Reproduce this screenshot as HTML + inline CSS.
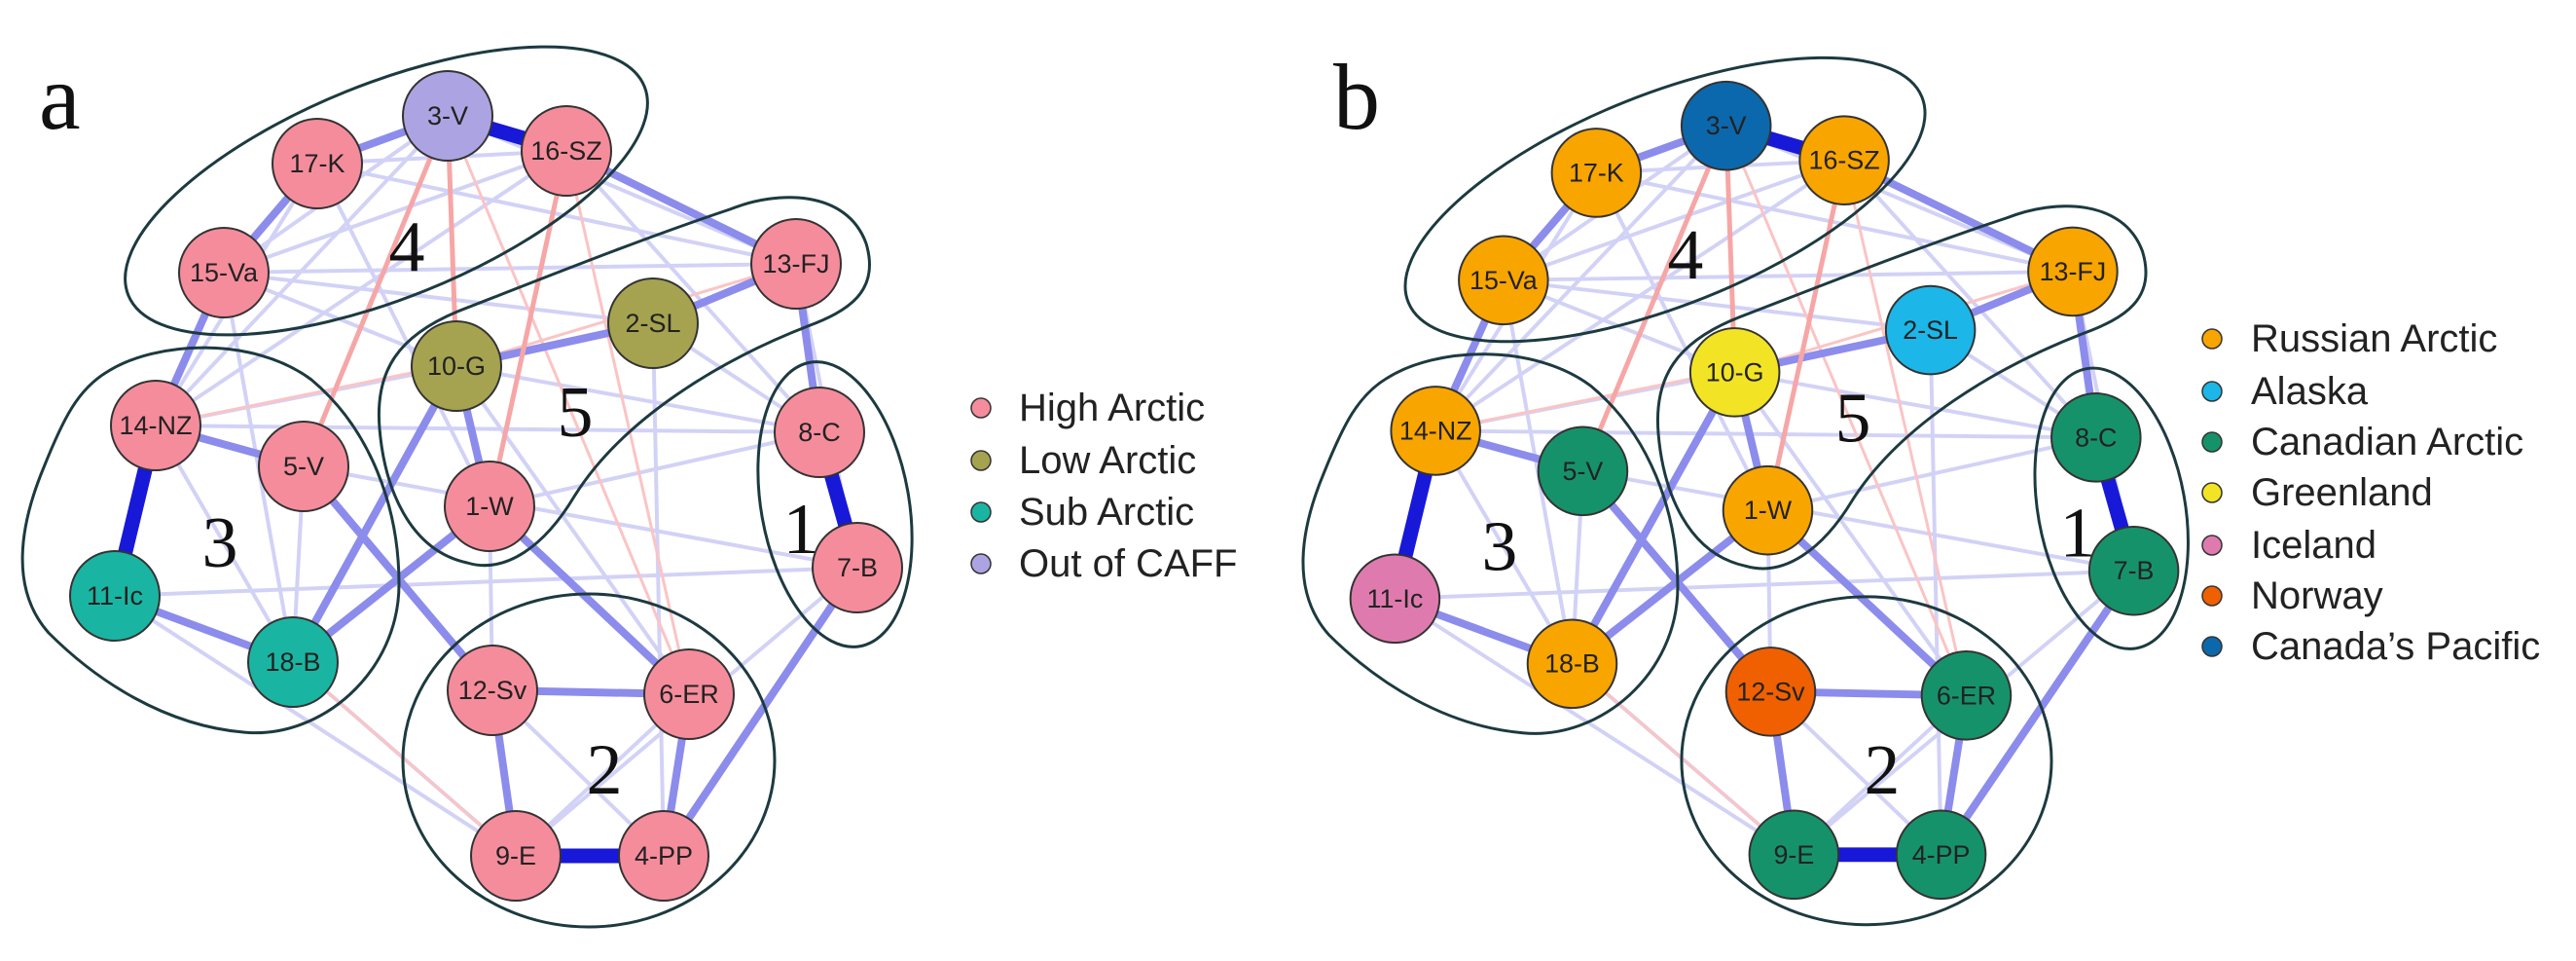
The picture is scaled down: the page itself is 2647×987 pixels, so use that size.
<!DOCTYPE html>
<html><head><meta charset="utf-8"><style>
html,body{margin:0;padding:0;background:#fff;}
svg{display:block;}
.nl{font-family:"Liberation Sans",sans-serif;font-size:27px;fill:#222;text-anchor:middle;dominant-baseline:central;}
.num{font-family:"Liberation Serif",serif;font-size:74px;fill:#111;text-anchor:middle;}
.lg{font-family:"Liberation Sans",sans-serif;font-size:40px;fill:#222;dominant-baseline:central;}
.pl{font-family:"Liberation Serif",serif;font-size:96px;fill:#111;}
</style></head><body>
<svg width="2647" height="987" viewBox="0 0 2647 987" xmlns="http://www.w3.org/2000/svg">
<defs>
<g id="net">
 <g stroke="#c8c8f6" stroke-width="4" opacity="0.8">
  <line x1="326" y1="168" x2="160" y2="437"/><line x1="460" y1="119" x2="160" y2="437"/>
  <line x1="582" y1="155" x2="160" y2="437"/><line x1="230" y1="280" x2="469" y2="376"/>
  <line x1="230" y1="280" x2="818" y2="271"/><line x1="326" y1="168" x2="818" y2="271"/>
  <line x1="460" y1="119" x2="818" y2="271"/><line x1="582" y1="155" x2="842" y2="444"/>
  <line x1="671" y1="332" x2="842" y2="444"/><line x1="818" y1="271" x2="881" y2="583"/>
  <line x1="469" y1="376" x2="160" y2="437"/><line x1="671" y1="332" x2="682" y2="879"/>
  <line x1="469" y1="376" x2="708" y2="713"/><line x1="312" y1="479" x2="301" y2="680"/>
  <line x1="160" y1="437" x2="301" y2="680"/><line x1="118" y1="612" x2="530" y2="879"/>
  <line x1="301" y1="680" x2="530" y2="879"/><line x1="506" y1="709" x2="682" y2="879"/>
  <line x1="530" y1="879" x2="708" y2="713"/><line x1="118" y1="612" x2="881" y2="583"/>
  <line x1="503" y1="520" x2="842" y2="444"/><line x1="503" y1="520" x2="506" y2="709"/>
  <line x1="842" y1="444" x2="469" y2="376"/><line x1="326" y1="168" x2="503" y2="520"/>
  <line x1="230" y1="280" x2="301" y2="680"/><line x1="460" y1="119" x2="230" y2="280"/>
  <line x1="326" y1="168" x2="582" y2="155"/><line x1="582" y1="155" x2="230" y2="280"/>
  <line x1="881" y1="583" x2="530" y2="879"/><line x1="230" y1="280" x2="671" y2="332"/>
  <line x1="160" y1="437" x2="842" y2="444"/><line x1="312" y1="479" x2="881" y2="583"/>
 </g>
 <g stroke="#fbc4c4" stroke-width="3">
  <line x1="582" y1="155" x2="708" y2="713"/><line x1="460" y1="119" x2="708" y2="713"/>
  <line x1="671" y1="332" x2="160" y2="437"/><line x1="818" y1="271" x2="469" y2="376"/>
  <line x1="301" y1="680" x2="530" y2="879"/>
 </g>
 <g stroke="#8c8cec" stroke-width="8">
  <line x1="326" y1="168" x2="460" y2="119"/><line x1="326" y1="168" x2="230" y2="280"/>
  <line x1="469" y1="376" x2="671" y2="332"/><line x1="671" y1="332" x2="818" y2="271"/>
  <line x1="469" y1="376" x2="503" y2="520"/><line x1="160" y1="437" x2="312" y2="479"/>
  <line x1="118" y1="612" x2="301" y2="680"/><line x1="301" y1="680" x2="503" y2="520"/>
  <line x1="301" y1="680" x2="469" y2="376"/><line x1="506" y1="709" x2="708" y2="713"/>
  <line x1="506" y1="709" x2="530" y2="879"/><line x1="708" y1="713" x2="682" y2="879"/>
  <line x1="582" y1="155" x2="818" y2="271"/><line x1="818" y1="271" x2="842" y2="444"/>
  <line x1="230" y1="280" x2="160" y2="437"/><line x1="881" y1="583" x2="682" y2="879"/>
  <line x1="312" y1="479" x2="506" y2="709"/><line x1="503" y1="520" x2="708" y2="713"/>
 </g>
 <g stroke="#f6a6a6" stroke-width="5">
  <line x1="460" y1="119" x2="469" y2="376"/><line x1="582" y1="155" x2="503" y2="520"/>
  <line x1="460" y1="119" x2="312" y2="479"/>
 </g>
 <g stroke="#1818d8" stroke-width="15">
  <line x1="460" y1="119" x2="582" y2="155"/><line x1="160" y1="437" x2="118" y2="612"/>
  <line x1="842" y1="444" x2="881" y2="583"/><line x1="530" y1="879" x2="682" y2="879"/>
 </g>
 <g fill="none" stroke="#1c3a40" stroke-width="3">
  <ellipse cx="397" cy="196" rx="286" ry="110" transform="rotate(-22 397 196)"/>
  <path d="M750,215 C800,195 870,195 890,250 C905,300 870,320 830,335 C740,370 640,430 590,510 C560,560 520,590 480,578 C420,565 395,500 390,440 C385,380 410,345 470,320 C560,285 660,245 750,215 Z"/>
  <path d="M110,382 C160,350 260,345 320,390 C380,440 410,520 410,600 C410,690 330,760 250,752 C170,745 100,700 50,650 C10,605 20,540 45,480 C65,430 80,400 110,382 Z"/>
  <ellipse cx="858" cy="518" rx="76" ry="148" transform="rotate(-10 858 518)"/>
  <ellipse cx="605" cy="781" rx="191" ry="171"/>
 </g>
 <text class="num" x="418" y="278">4</text>
 <text class="num" x="591" y="448">5</text>
 <text class="num" x="226" y="582">3</text>
 <text class="num" x="823" y="568">1</text>
 <text class="num" x="621" y="815">2</text>
</g>
</defs>

<!-- Panel a -->
<use href="#net"/>
<text class="pl" x="40" y="132">a</text>
<g stroke="#333" stroke-width="2">
 <circle cx="460" cy="119" r="46" fill="#aca4e2"/>
 <circle cx="582" cy="155" r="46" fill="#f58c9c"/>
 <circle cx="326" cy="168" r="46" fill="#f58c9c"/>
 <circle cx="230" cy="280" r="46" fill="#f58c9c"/>
 <circle cx="818" cy="271" r="46" fill="#f58c9c"/>
 <circle cx="671" cy="332" r="46" fill="#a5a350"/>
 <circle cx="469" cy="376" r="46" fill="#a5a350"/>
 <circle cx="160" cy="437" r="46" fill="#f58c9c"/>
 <circle cx="312" cy="479" r="46" fill="#f58c9c"/>
 <circle cx="503" cy="520" r="46" fill="#f58c9c"/>
 <circle cx="842" cy="444" r="46" fill="#f58c9c"/>
 <circle cx="881" cy="583" r="46" fill="#f58c9c"/>
 <circle cx="118" cy="612" r="46" fill="#1ab5a2"/>
 <circle cx="301" cy="680" r="46" fill="#1ab5a2"/>
 <circle cx="506" cy="709" r="46" fill="#f58c9c"/>
 <circle cx="708" cy="713" r="46" fill="#f58c9c"/>
 <circle cx="530" cy="879" r="46" fill="#f58c9c"/>
 <circle cx="682" cy="879" r="46" fill="#f58c9c"/>
</g>
<g class="nl">
 <text class="nl" x="460" y="119">3-V</text><text class="nl" x="582" y="155">16-SZ</text>
 <text class="nl" x="326" y="168">17-K</text><text class="nl" x="230" y="280">15-Va</text>
 <text class="nl" x="818" y="271">13-FJ</text><text class="nl" x="671" y="332">2-SL</text>
 <text class="nl" x="469" y="376">10-G</text><text class="nl" x="160" y="437">14-NZ</text>
 <text class="nl" x="312" y="479">5-V</text><text class="nl" x="503" y="520">1-W</text>
 <text class="nl" x="842" y="444">8-C</text><text class="nl" x="881" y="583">7-B</text>
 <text class="nl" x="118" y="612">11-Ic</text><text class="nl" x="301" y="680">18-B</text>
 <text class="nl" x="506" y="709">12-Sv</text><text class="nl" x="708" y="713">6-ER</text>
 <text class="nl" x="530" y="879">9-E</text><text class="nl" x="682" y="879">4-PP</text>
</g>
<g stroke="#333" stroke-width="1.5">
 <circle cx="1008" cy="419" r="10" fill="#f58c9c"/>
 <circle cx="1008" cy="473" r="10" fill="#a5a350"/>
 <circle cx="1008" cy="526" r="10" fill="#1ab5a2"/>
 <circle cx="1008" cy="579" r="10" fill="#aca4e2"/>
</g>
<text class="lg" x="1047" y="419">High Arctic</text>
<text class="lg" x="1047" y="473">Low Arctic</text>
<text class="lg" x="1047" y="526">Sub Arctic</text>
<text class="lg" x="1047" y="579">Out of CAFF</text>

<!-- Panel b -->
<text class="pl" x="1370" y="132">b</text>
<g transform="translate(1316 12) scale(0.995 0.985)">
<use href="#net"/>
<g stroke="#333" stroke-width="2">
 <circle cx="460" cy="119" r="46" fill="#0c68ac"/>
 <circle cx="582" cy="155" r="46" fill="#f9a500"/>
 <circle cx="326" cy="168" r="46" fill="#f9a500"/>
 <circle cx="230" cy="280" r="46" fill="#f9a500"/>
 <circle cx="818" cy="271" r="46" fill="#f9a500"/>
 <circle cx="671" cy="332" r="46" fill="#1cb6e8"/>
 <circle cx="469" cy="376" r="46" fill="#f2e424"/>
 <circle cx="160" cy="437" r="46" fill="#f9a500"/>
 <circle cx="312" cy="479" r="46" fill="#16926a"/>
 <circle cx="503" cy="520" r="46" fill="#f9a500"/>
 <circle cx="842" cy="444" r="46" fill="#16926a"/>
 <circle cx="881" cy="583" r="46" fill="#16926a"/>
 <circle cx="118" cy="612" r="46" fill="#df7aae"/>
 <circle cx="301" cy="680" r="46" fill="#f9a500"/>
 <circle cx="506" cy="709" r="46" fill="#f06000"/>
 <circle cx="708" cy="713" r="46" fill="#16926a"/>
 <circle cx="530" cy="879" r="46" fill="#16926a"/>
 <circle cx="682" cy="879" r="46" fill="#16926a"/>
</g>
 <text class="nl" x="460" y="119">3-V</text><text class="nl" x="582" y="155">16-SZ</text>
 <text class="nl" x="326" y="168">17-K</text><text class="nl" x="230" y="280">15-Va</text>
 <text class="nl" x="818" y="271">13-FJ</text><text class="nl" x="671" y="332">2-SL</text>
 <text class="nl" x="469" y="376">10-G</text><text class="nl" x="160" y="437">14-NZ</text>
 <text class="nl" x="312" y="479">5-V</text><text class="nl" x="503" y="520">1-W</text>
 <text class="nl" x="842" y="444">8-C</text><text class="nl" x="881" y="583">7-B</text>
 <text class="nl" x="118" y="612">11-Ic</text><text class="nl" x="301" y="680">18-B</text>
 <text class="nl" x="506" y="709">12-Sv</text><text class="nl" x="708" y="713">6-ER</text>
 <text class="nl" x="530" y="879">9-E</text><text class="nl" x="682" y="879">4-PP</text>
</g>
<g stroke="#333" stroke-width="1.5">
 <circle cx="2273" cy="348" r="10" fill="#f9a500"/>
 <circle cx="2273" cy="402" r="10" fill="#1cb6e8"/>
 <circle cx="2273" cy="454" r="10" fill="#16926a"/>
 <circle cx="2273" cy="506" r="10" fill="#f2e424"/>
 <circle cx="2273" cy="560" r="10" fill="#df7aae"/>
 <circle cx="2273" cy="612" r="10" fill="#f06000"/>
 <circle cx="2273" cy="664" r="10" fill="#0c68ac"/>
</g>
<text class="lg" x="2313" y="348">Russian Arctic</text>
<text class="lg" x="2313" y="402">Alaska</text>
<text class="lg" x="2313" y="454">Canadian Arctic</text>
<text class="lg" x="2313" y="506">Greenland</text>
<text class="lg" x="2313" y="560">Iceland</text>
<text class="lg" x="2313" y="612">Norway</text>
<text class="lg" x="2313" y="664">Canada’s Pacific</text>
</svg>
</body></html>
